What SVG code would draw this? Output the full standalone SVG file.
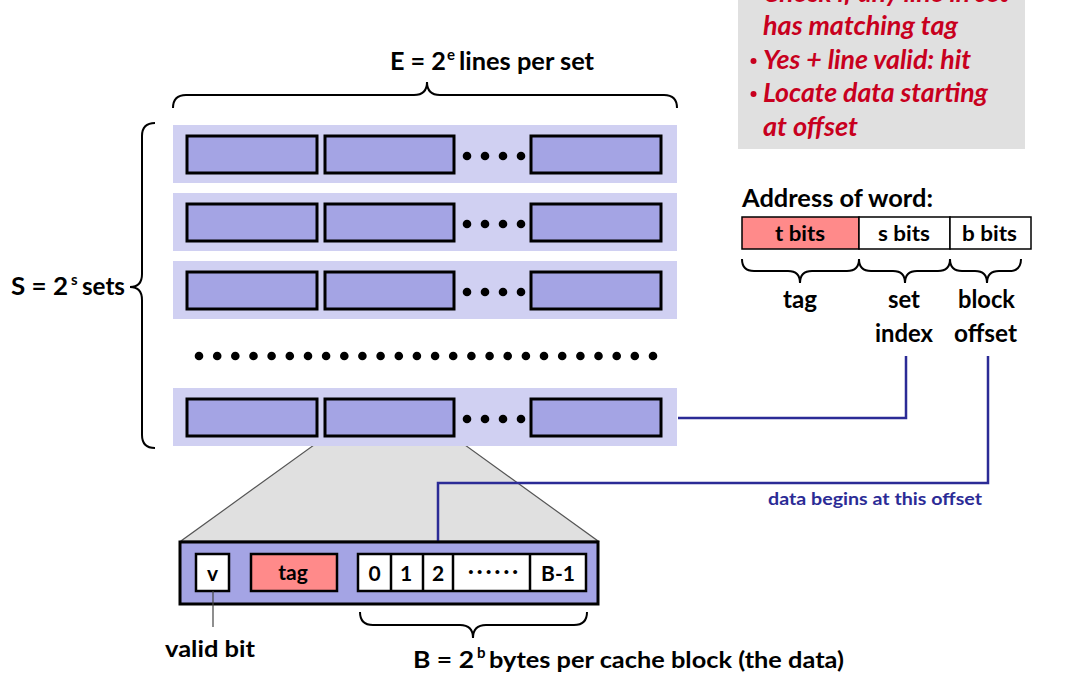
<svg xmlns="http://www.w3.org/2000/svg" width="1074" height="676" viewBox="0 0 1074 676">
<style>
.t{font-family:Lato,"Liberation Sans",sans-serif;font-weight:bold;fill:#000}
.rowbg{fill:#d0d0f2}
.blk{fill:#a4a4e4;stroke:#000;stroke-width:3}
.brace{fill:none;stroke:#000;stroke-width:2}
.wbox{fill:#fff;stroke:#000;stroke-width:2.5}
.abox{stroke:#000;stroke-width:1.5}
.conn{fill:none;stroke:#2b2b96;stroke-width:2.5}
.red{font-family:Lato,"Liberation Sans",sans-serif;font-weight:bold;font-style:italic;fill:#c8001e;font-size:26px}
</style>
<defs>
<g id="setrow">
<rect class="rowbg" x="173" y="0" width="504" height="58"/>
<rect class="blk" x="187" y="11" width="130" height="37"/>
<rect class="blk" x="325" y="11" width="129" height="37"/>
<rect class="blk" x="531" y="11" width="130" height="37"/>
<circle cx="467" cy="31" r="4.3"/><circle cx="485" cy="31" r="4.3"/><circle cx="503" cy="31" r="4.3"/><circle cx="521" cy="31" r="4.3"/>
</g>
</defs>

<g id="note">
<rect x="738" y="0" width="287" height="149" fill="#e0e0e0"/>
<text class="red" x="763" y="2" textLength="246" lengthAdjust="spacingAndGlyphs">Check if any line in set</text>
<text class="red" x="763" y="35" textLength="195" lengthAdjust="spacingAndGlyphs">has matching tag</text>
<circle cx="753.5" cy="61" r="3" fill="#c8001e"/>
<text class="red" x="763" y="69" textLength="208" lengthAdjust="spacingAndGlyphs">Yes + line valid: hit</text>
<circle cx="753.5" cy="94" r="3" fill="#c8001e"/>
<text class="red" x="763" y="102" textLength="225" lengthAdjust="spacingAndGlyphs">Locate data starting</text>
<text class="red" x="763" y="136" textLength="95" lengthAdjust="spacingAndGlyphs">at offset</text>
</g>

<g id="lines-label">
<text class="t" x="390" y="70" font-size="24" textLength="56" lengthAdjust="spacingAndGlyphs">E = 2</text>
<text class="t" x="447" y="60" font-size="15">e</text>
<text class="t" x="459" y="70" font-size="24" textLength="135" lengthAdjust="spacingAndGlyphs">lines per set</text>
<path class="brace" d="M173,108 Q173,95 186,95 L414,95 Q427,95 427,82 Q427,95 440,95 L664,95 Q677,95 677,108"/>
</g>

<g id="sets-label">
<text class="t" x="11" y="295" font-size="24" textLength="57" lengthAdjust="spacingAndGlyphs">S = 2</text>
<text class="t" x="71" y="285" font-size="15">s</text>
<text class="t" x="82" y="295" font-size="24" textLength="43" lengthAdjust="spacingAndGlyphs">sets</text>
<path class="brace" d="M155,123 Q142,123 142,136 L142,274 Q142,287 130,287 Q142,287 142,300 L142,435 Q142,448 155,448"/>
</g>

<g id="set0"><use href="#setrow" y="125"/></g>
<g id="set1"><use href="#setrow" y="193"/></g>
<g id="set2"><use href="#setrow" y="261"/></g>
<g id="set-dots">
<circle cx="199" cy="356" r="4.3"/><circle cx="217.2" cy="356" r="4.3"/><circle cx="235.3" cy="356" r="4.3"/><circle cx="253.5" cy="356" r="4.3"/><circle cx="271.6" cy="356" r="4.3"/><circle cx="289.8" cy="356" r="4.3"/><circle cx="308" cy="356" r="4.3"/><circle cx="326.1" cy="356" r="4.3"/><circle cx="344.3" cy="356" r="4.3"/><circle cx="362.4" cy="356" r="4.3"/><circle cx="380.6" cy="356" r="4.3"/><circle cx="398.8" cy="356" r="4.3"/><circle cx="416.9" cy="356" r="4.3"/><circle cx="435.1" cy="356" r="4.3"/><circle cx="453.2" cy="356" r="4.3"/><circle cx="471.4" cy="356" r="4.3"/><circle cx="489.6" cy="356" r="4.3"/><circle cx="507.7" cy="356" r="4.3"/><circle cx="525.9" cy="356" r="4.3"/><circle cx="544" cy="356" r="4.3"/><circle cx="562.2" cy="356" r="4.3"/><circle cx="580.4" cy="356" r="4.3"/><circle cx="598.5" cy="356" r="4.3"/><circle cx="616.7" cy="356" r="4.3"/><circle cx="634.8" cy="356" r="4.3"/><circle cx="653" cy="356" r="4.3"/>
</g>

<g id="zoom">
<polygon points="325,437 454,437 598,541 181,541" fill="#e0e0e0" stroke="#555" stroke-width="1.2"/>
</g>
<g id="setN"><use href="#setrow" y="388"/></g>

<g id="connectors">
<polyline class="conn" points="678,418 906,418 906,356"/>
<polyline class="conn" points="988,356 988,483 438,483 438,554"/>
<text x="768" y="505" font-family="Lato,'Liberation Sans',sans-serif" font-weight="bold" font-size="17" fill="#2b2b96" textLength="214" lengthAdjust="spacingAndGlyphs">data begins at this offset</text>
</g>

<g id="cache-line">
<rect x="180" y="542" width="418" height="62" fill="#a4a4e4" stroke="#000" stroke-width="3"/>
<rect class="wbox" x="196" y="554" width="33" height="37"/>
<text class="t" x="212.5" y="581" font-size="21" text-anchor="middle">v</text>
<rect x="251" y="554" width="86" height="37" fill="#ff8a8a" stroke="#000" stroke-width="2.5"/>
<text class="t" x="293" y="580" font-size="21" text-anchor="middle">tag</text>
<rect class="wbox" x="358" y="554" width="228" height="37"/>
<line x1="391" y1="554" x2="391" y2="591" stroke="#000" stroke-width="2.5"/>
<line x1="423" y1="554" x2="423" y2="591" stroke="#000" stroke-width="2.5"/>
<line x1="453" y1="554" x2="453" y2="591" stroke="#000" stroke-width="2.5"/>
<line x1="530" y1="554" x2="530" y2="591" stroke="#000" stroke-width="2.5"/>
<text class="t" x="374.5" y="581" font-size="21" text-anchor="middle">0</text>
<text class="t" x="406" y="581" font-size="21" text-anchor="middle">1</text>
<text class="t" x="438" y="581" font-size="21" text-anchor="middle">2</text>
<text class="t" x="468" y="578" font-size="21" textLength="50" lengthAdjust="spacing">······</text>
<text class="t" x="558" y="581" font-size="21" text-anchor="middle">B-1</text>
</g>

<g id="valid-bit">
<line x1="213" y1="591" x2="213" y2="627" stroke="#444" stroke-width="1.2"/>
<text class="t" x="165" y="657" font-size="23" textLength="90" lengthAdjust="spacingAndGlyphs">valid bit</text>
</g>

<g id="block-size">
<path class="brace" d="M360,612 Q360,625 373,625 L460,625 Q473,625 473,638 Q473,625 486,625 L574,625 Q587,625 587,612"/>
<text class="t" x="413" y="668" font-size="23" textLength="61" lengthAdjust="spacingAndGlyphs">B = 2</text>
<text class="t" x="477" y="658" font-size="15">b</text>
<text class="t" x="489" y="668" font-size="23" textLength="355" lengthAdjust="spacingAndGlyphs">bytes per cache block (the data)</text>
</g>

<g id="address">
<text class="t" x="742" y="207" font-size="24" textLength="191" lengthAdjust="spacingAndGlyphs">Address of word:</text>
<rect class="abox" x="742" y="217" width="117" height="32" fill="#ff8a8a"/>
<rect class="abox" x="859" y="217" width="91" height="32" fill="#fff"/>
<rect class="abox" x="950" y="217" width="81" height="32" fill="#fff"/>
<text class="t" x="775" y="241" font-size="21" textLength="50" lengthAdjust="spacingAndGlyphs">t bits</text>
<text class="t" x="878" y="241" font-size="21" textLength="52" lengthAdjust="spacingAndGlyphs">s bits</text>
<text class="t" x="962" y="241" font-size="21" textLength="55" lengthAdjust="spacingAndGlyphs">b bits</text>
<path class="brace" d="M742,259 Q742,271 754,271 L788,271 Q800,271 800,283 Q800,271 812,271 L847,271 Q859,271 859,259"/>
<path class="brace" d="M859,259 Q859,271 871,271 L893,271 Q905,271 905,283 Q905,271 917,271 L938,271 Q950,271 950,259"/>
<path class="brace" d="M950,259 Q950,271 962,271 L975,271 Q987,271 987,283 Q987,271 999,271 L1009,271 Q1021,271 1021,259"/>
<text class="t" x="783" y="308" font-size="24" textLength="34" lengthAdjust="spacingAndGlyphs">tag</text>
<text class="t" x="888" y="308" font-size="24" textLength="32" lengthAdjust="spacingAndGlyphs">set</text>
<text class="t" x="875" y="342" font-size="24" textLength="58" lengthAdjust="spacingAndGlyphs">index</text>
<text class="t" x="958" y="308" font-size="24" textLength="57" lengthAdjust="spacingAndGlyphs">block</text>
<text class="t" x="954" y="342" font-size="24" textLength="63" lengthAdjust="spacingAndGlyphs">offset</text>
</g>
</svg>
